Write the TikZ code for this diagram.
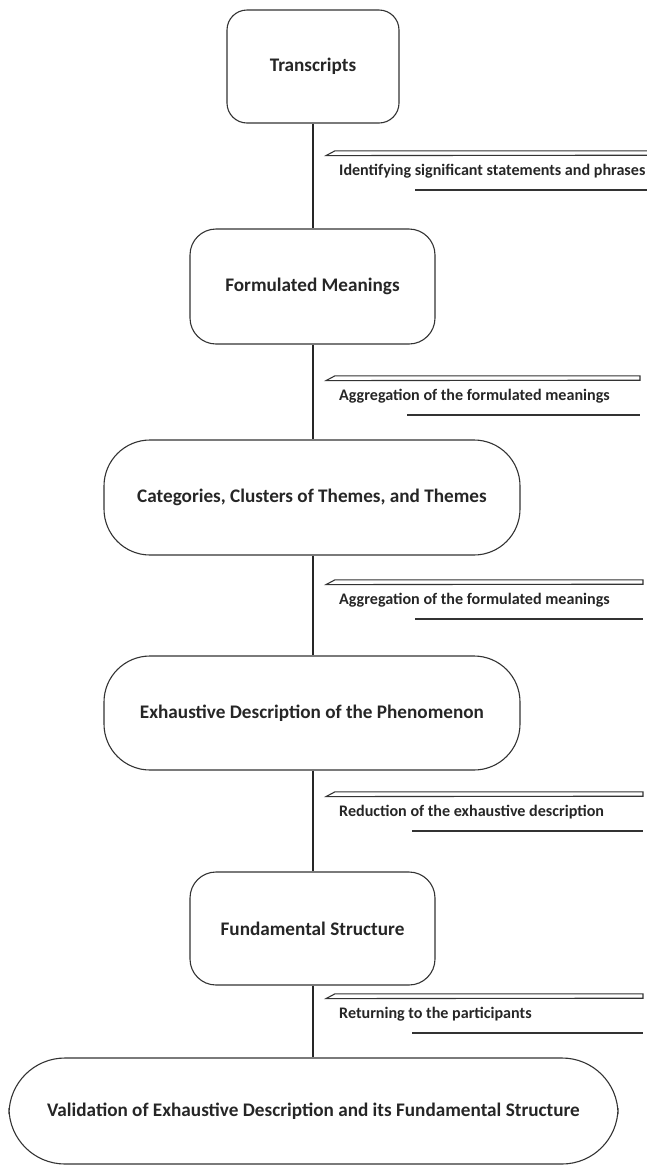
\documentclass[tikz,border=0pt]{standalone}
\usepackage{fontspec}
\setmainfont{Carlito}
\begin{document}
\begin{tikzpicture}[x=1pt,y=-1pt,
  stage/.style={draw=black!80, line width=1.1pt, rounded corners=#1,
    align=center, inner sep=0pt, text=black!85,
    font=\fontsize{19.2}{23}\selectfont\bfseries},
  steptext/.style={anchor=west, inner sep=0pt, text=black!85,
    font=\fontsize{16.1}{19}\selectfont\bfseries},
  link/.style={draw=black!85, line width=1.1pt},
  tab/.style={draw=black!80, line width=1.1pt},
  rule/.style={draw=black!80, line width=1.1pt}]
\useasboundingbox (0,0) rectangle (647,1168);

% process stages
\node[stage=20, minimum width=172pt, minimum height=113pt] (s1) at (313,66.5) {Transcripts};
\node[stage=26, minimum width=245pt, minimum height=115pt] (s2) at (312.5,286.5) {Formulated Meanings};
\node[stage=46, minimum width=416pt, minimum height=115pt] (s3) at (312,497.5) {Categories, Clusters of Themes, and Themes};
\node[stage=46, minimum width=416pt, minimum height=114pt] (s4) at (312,713) {Exhaustive Description of the Phenomenon};
\node[stage=26, minimum width=245pt, minimum height=113pt] (s5) at (312.5,928.5) {Fundamental Structure};
\node[stage=56, minimum width=609pt, minimum height=106pt] (s6) at (313.5,1111) {Validation of Exhaustive Description and its Fundamental Structure};

% connectors
\draw[link] (s1.south) -- (s1.south |- s2.north);
\draw[link] (s1.south |- s2.south) -- (s1.south |- s3.north);
\draw[link] (s1.south |- s3.south) -- (s1.south |- s4.north);
\draw[link] (s1.south |- s4.south) -- (s1.south |- s5.north);
\draw[link] (s1.south |- s5.south) -- (s1.south |- s6.north);

% step annotations: tab bar, text, underline
\foreach \n/\ty/\xr/\xu/\txt in {
  1/153/652/415/Identifying significant statements and phrases,
  2/378/640/407/Aggregation of the formulated meanings,
  3/582/643/415/Aggregation of the formulated meanings,
  4/794/643/412/Reduction of the exhaustive description,
  5/996/643/412/Returning to the participants}{
  \draw[tab] (\xr,\ty-2.2) -- (335,\ty-2.2) -- (326,\ty+2.6) -- (\xr,\ty+2.2) -- cycle;
  \node[steptext] (t\n) at (339,\ty+18.5) {\txt};
  \coordinate (u\n) at (\xu,\ty+37);
  \coordinate (v\n) at (\xr,\ty+37);
  \draw[rule] (u\n) -- (v\n);
}
\end{tikzpicture}
\end{document}
